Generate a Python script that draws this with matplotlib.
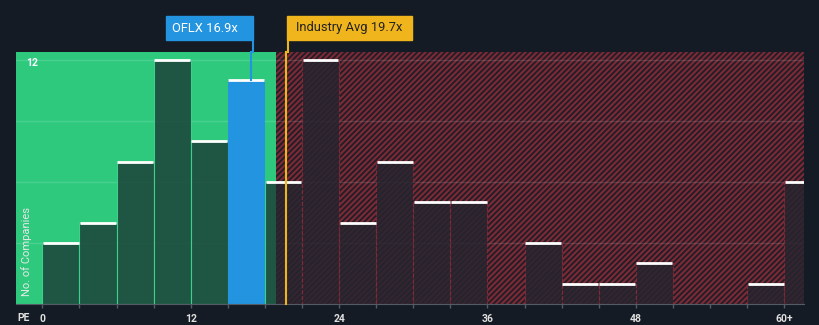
import numpy as np
import matplotlib.pyplot as plt
from matplotlib.patches import Rectangle

# histogram of PE ratios, bins are 3 wide, last bin is 60+
bin_starts = [0, 3, 6, 9, 12, 15, 18, 21, 24, 27, 30, 33, 36, 39, 42, 45, 48, 51, 54, 57, 60]
counts = [3, 4, 7, 12, 8, 11, 6, 12, 4, 7, 5, 5, 0, 3, 1, 1, 2, 0, 0, 1, 6]
tick_vals = [0, 12, 24, 36, 48, 60]
tick_labels = ['0', '12', '24', '36', '48', '60+']
company = 'OFLX'
company_pe = 16.9
company_bin = 15
industry_pe = 19.7
fair_limit = 18.9

bg = '#151b24'
green = '#2fc97e'
blue = '#2394df'
gold = '#f0b51c'

plt.rcParams['hatch.linewidth'] = 1.6
fig = plt.figure(figsize=(8.2, 3.25), dpi=100, facecolor=bg)
ax = fig.add_axes([16/820, 21/325, 788/820, 252/325])
ax.set_facecolor(bg)
ax.set_xlim(-2.13, 61.6)
ax.set_ylim(0, 12.4)

green_span = ax.axvspan(-2.13, fair_limit, color=green, lw=0, zorder=0)
red_span = ax.axvspan(fair_limit, 61.6, facecolor='#1d1d27', edgecolor='#7a2935',
                      hatch='//////', lw=0, zorder=0)

for y in [3, 6, 9, 12]:
    ax.axhline(y, color='white', alpha=0.13, lw=1, zorder=1)

w = 3
for x0, c in zip(bin_starts, counts):
    if c == 0:
        continue
    if x0 == company_bin:
        ax.bar(x0, c, width=w, align='edge', color=blue, lw=0, zorder=2)
    else:
        b1 = ax.bar(x0, c, width=w, align='edge', color='#1d4a3d', alpha=0.9,
                    edgecolor='#3fd890', lw=0.8, zorder=2)
        b1[0].set_clip_path(green_span)
        b2 = ax.bar(x0, c, width=w, align='edge', color='#26252f', alpha=0.85,
                    edgecolor='#8a2a38', lw=0.8, ls='--', zorder=2)
        b2[0].set_clip_path(red_span)
    ax.hlines(c, x0 + 0.05, x0 + w - 0.05, color='white', lw=2, zorder=3)

# company and industry markers
ax.plot([company_pe, company_pe], [11, 12.4], color=blue, lw=1.5, zorder=4, clip_on=False)
ax.plot([industry_pe, industry_pe], [0, 12.4], color=gold, lw=1.5, zorder=4, clip_on=False)

fig.patches.append(Rectangle((166/820, 1 - 40/325), 87/820, 24/325, color=blue,
                             transform=fig.transFigure))
fig.patches.append(Rectangle((287/820, 1 - 40/325), 125/820, 24/325, color=gold,
                             transform=fig.transFigure))
fig.text(172/820, 1 - 28/325, f'{company} {company_pe}x', ha='left', va='center',
         color='white', fontsize=9.3, fontfamily='Roboto')
fig.text(296/820, 1 - 28/325, f'Industry Avg {industry_pe}x', ha='left', va='center',
         color='#222222', fontsize=9.3, fontfamily='Roboto')
fig.lines.append(plt.Line2D([253/820, 253/820], [1 - 40/325, 1 - 52/325],
                            transform=fig.transFigure, color=blue, lw=1.5))
fig.lines.append(plt.Line2D([288/820, 288/820], [1 - 40/325, 1 - 52/325],
                            transform=fig.transFigure, color=gold, lw=1.5))

ax.set_yticks([])
ax.text(-1.3, 11.85, '12', color='white', fontsize=7.5, fontweight='bold', va='center',
        fontfamily='Roboto')
ax.set_ylabel('No. of Companies', color='#e8e8e8', fontsize=8, fontfamily='Roboto')
ax.yaxis.set_label_coords(0.02, 0.21)

ax.set_xticks(np.arange(0, 61, 3), minor=True)
ax.set_xticks(tick_vals)
ax.set_xticklabels(tick_labels, fontfamily='Roboto', fontweight='bold')
ax.tick_params(axis='x', which='both', colors='#555b66', length=3, width=1)
ax.tick_params(axis='x', which='major', labelcolor='#e0e0e0', labelsize=7.5, pad=4)
ax.text(-2.0, -0.45, 'PE', color='#e0e0e0', fontsize=7.5, va='top', fontweight='bold',
        fontfamily='Roboto')
for s in ['top', 'right', 'left']:
    ax.spines[s].set_visible(False)
ax.spines['bottom'].set_color('#555b66')

fig.savefig('out.png', dpi=100, facecolor=bg)
